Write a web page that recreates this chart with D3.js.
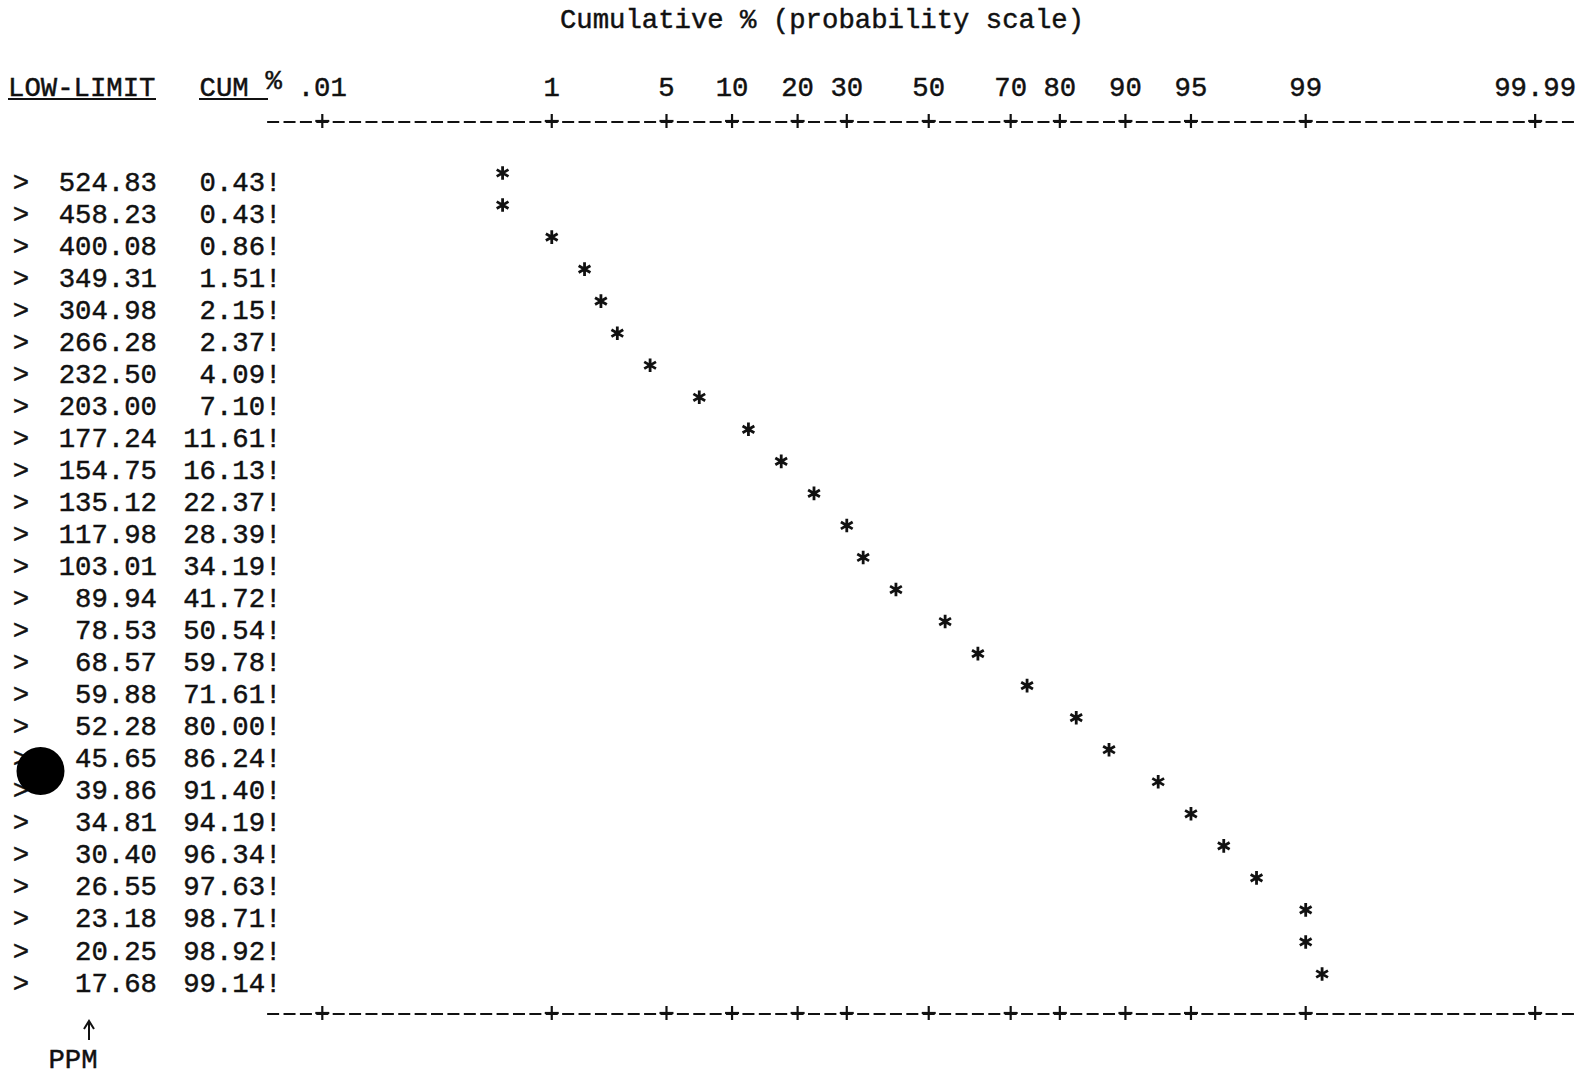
<!DOCTYPE html>
<html>
<head>
<meta charset="utf-8">
<script src="https://cdn.jsdelivr.net/npm/d3@7"></script>
<style>
	body{margin:0;background:#fff;}
	text{font-family:"Liberation Mono",monospace;font-size:27.3px;fill:#111;stroke:#111;stroke-width:0.45px;}
</style>
</head>
<body>
<svg width="1584" height="1077"></svg>
<script>
"use strict";

var lowLimits=[524.83,458.23,400.08,349.31,304.98,266.28,232.50,203.00,177.24,154.75,135.12,117.98,103.01,
	89.94,78.53,68.57,59.88,52.28,45.65,39.86,34.81,30.40,26.55,23.18,20.25,17.68];
var cumPct=[0.43,0.43,0.86,1.51,2.15,2.37,4.09,7.10,11.61,16.13,22.37,28.39,34.19,
	41.72,50.54,59.78,71.61,80.00,86.24,91.40,94.19,96.34,97.63,98.71,98.92,99.14];
var tickPct=[0.01,1,5,10,20,30,50,70,80,90,95,99,99.99];
var tickLabels=[".01","1","5","10","20","30","50","70","80","90","95","99","99.99"];

// inverse normal cdf (Acklam), used as the probability-scale transform
function probit(p){
	var a=[-39.69683028665376,220.9460984245205,-275.9285104469687,138.3577518672690,-30.66479806614716,2.506628277459239];
	var b=[-54.47609879822406,161.5858368580409,-155.6989798598866,66.80131188771972,-13.28068155288572];
	var c=[-0.007784894002430293,-0.3223964580411365,-2.400758277161838,-2.549732539343734,4.374664141464968,2.938163982698783];
	var d=[0.007784695709041462,0.3224671290700398,2.445134137142996,3.754408661907416];
	var q,r;
	if(p<0.02425){
		q=Math.sqrt(-2*Math.log(p));
		return (((((c[0]*q+c[1])*q+c[2])*q+c[3])*q+c[4])*q+c[5])/((((d[0]*q+d[1])*q+d[2])*q+d[3])*q+1);
	}
	if(p>1-0.02425){
		q=Math.sqrt(-2*Math.log(1-p));
		return -(((((c[0]*q+c[1])*q+c[2])*q+c[3])*q+c[4])*q+c[5])/((((d[0]*q+d[1])*q+d[2])*q+d[3])*q+1);
	}
	q=p-0.5; r=q*q;
	return (((((a[0]*r+a[1])*r+a[2])*r+a[3])*r+a[4])*r+a[5])*q/(((((b[0]*r+b[1])*r+b[2])*r+b[3])*r+b[4])*r+1);
}

function dataViz(){
	var svg=d3.select("svg");
	var cw=16.39, x0=322.3, nCols=74;

	var xScale=d3.scaleLinear()
		.domain([probit(tickPct[0]/100),probit(tickPct[tickPct.length-1]/100)])
		.range([x0,x0+nCols*cw]);
	var yScale=d3.scaleLinear().domain([0,lowLimits.length-1]).range([181,982]);

	// typewriter grid: points land on whole character cells
	function cellUp(p){ var c=(xScale(probit(p/100))-x0)/cw; return x0+Math.ceil(c-1e-9)*cw; }
	function cellTick(p){
		var c=(xScale(probit(p/100))-x0)/cw;
		c = p<50 ? Math.ceil(c-1e-9) : Math.floor(c+1e-9);
		return x0+c*cw;
	}

	svg.append("text")
		.attr("x",822).attr("y",18).attr("dy","0.35em")
		.attr("text-anchor","middle")
		.text("Cumulative % (probability scale)");

	svg.append("text").attr("x",8).attr("y",86).attr("dy","0.35em").text("LOW-LIMIT");
	svg.append("line").attr("x1",8).attr("x2",156).attr("y1",99).attr("y2",99)
		.attr("stroke","#111").attr("stroke-width",1.8);
	svg.append("text").attr("x",199.5).attr("y",86).attr("dy","0.35em").text("CUM");
	svg.append("text").attr("x",265.5).attr("y",79).attr("dy","0.35em").text("%");
	svg.append("line").attr("x1",199).attr("x2",268).attr("y1",99).attr("y2",99)
		.attr("stroke","#111").attr("stroke-width",1.8);

	svg.selectAll("text.tickLabel")
		.data(tickPct)
		.enter()
		.append("text")
		.attr("class","tickLabel")
		.attr("x",function(d){return cellTick(d);})
		.attr("y",86).attr("dy","0.35em")
		.attr("text-anchor","middle")
		.text(function(d,i){return tickLabels[i];});

	// dashed top and bottom axes with + at each tick
	[121,1013].forEach(function(ay){
		svg.append("line")
			.attr("x1",x0-3*cw-6).attr("x2",x0+(nCols+2)*cw+8)
			.attr("y1",ay+1).attr("y2",ay+1)
			.attr("stroke","#111").attr("stroke-width",2)
			.attr("stroke-dasharray","12 4.39");
		svg.selectAll(null)
			.data(tickPct)
			.enter()
			.append("line")
			.attr("x1",function(d){return cellTick(d);})
			.attr("x2",function(d){return cellTick(d);})
			.attr("y1",ay-7).attr("y2",ay+7)
			.attr("stroke","#111").attr("stroke-width",2.2);
		svg.selectAll(null)
			.data(tickPct)
			.enter()
			.append("line")
			.attr("x1",function(d){return cellTick(d)-7;})
			.attr("x2",function(d){return cellTick(d)+7;})
			.attr("y1",ay).attr("y2",ay)
			.attr("stroke","#111").attr("stroke-width",2.2);
	});

	var rows=svg.selectAll("g.row")
		.data(lowLimits)
		.enter()
		.append("g")
		.attr("class","row")
		.attr("transform",function(d,i){return "translate(0,"+yScale(i)+")";});

	rows.append("text").attr("x",21).attr("dy","0.35em").attr("text-anchor","middle").text(">");
	rows.append("text").attr("x",157).attr("dy","0.35em").attr("text-anchor","end")
		.text(function(d){return d.toFixed(2);});
	rows.append("text").attr("x",281.5).attr("dy","0.35em").attr("text-anchor","end")
		.text(function(d,i){return cumPct[i].toFixed(2)+"!";});

	var star=d3.symbol().type(d3.symbolAsterisk).size(130);
	svg.selectAll("path.point")
		.data(cumPct)
		.enter()
		.append("path")
		.attr("class","point")
		.attr("d",star)
		.attr("transform",function(d,i){return "translate("+cellUp(d)+","+(yScale(i)-8)+")";})
		.attr("fill","none")
		.attr("stroke","#111")
		.attr("stroke-width",2.8);

	// little arrow pointing up at the PPM column
	svg.append("path")
		.attr("d","M89,1040V1023M84,1029L89,1021L94,1029")
		.attr("fill","none")
		.attr("stroke","#111")
		.attr("stroke-width",2);
	svg.append("text").attr("x",73).attr("y",1058).attr("dy","0.35em").attr("text-anchor","middle").text("PPM");

	// ink blot on the scanned sheet
	svg.append("circle").attr("cx",40.5).attr("cy",771).attr("r",24).style("fill","#000");
}

dataViz();
</script>
</body>
</html>
